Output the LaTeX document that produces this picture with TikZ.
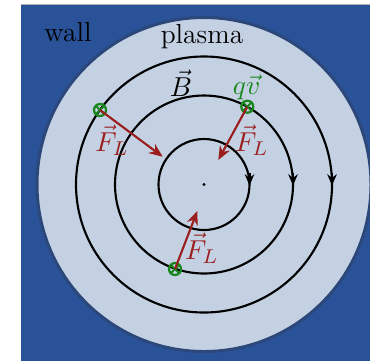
\documentclass[tikz,border=0pt]{standalone}
\usetikzlibrary{arrows.meta}
\definecolor{wallblue}{RGB}{42,82,152}
\definecolor{plasmafill}{RGB}{196,209,227}
\definecolor{plasmaedge}{RGB}{44,72,122}
\definecolor{forcered}{RGB}{155,30,30}
\definecolor{chargegreen}{RGB}{25,135,30}
\tikzset{
  fieldline/.style={line width=0.85pt, black},
  fieldarrow/.style={line width=0.85pt, -{Stealth[length=4.5pt,width=3.8pt]}},
  force/.style={line width=0.85pt, forcered, -{Stealth[length=5.5pt,width=4.5pt]}},
  charge/.style={circle, draw=chargegreen, line width=0.9pt, minimum size=4.8pt, inner sep=0pt,
    path picture={\draw[chargegreen, line width=0.75pt]
      (path picture bounding box.north west) -- (path picture bounding box.south east)
      (path picture bounding box.north east) -- (path picture bounding box.south west);}},
  lbl/.style={font=\fontsize{11}{13}\selectfont, inner sep=0pt},
}
\newcommand{\lvec}[1]{\vec{#1}\mkern1mu}
\begin{document}
\begin{tikzpicture}[x=0.4pt,y=-0.4pt]
\useasboundingbox (0,0) rectangle (370,361);
\fill[wallblue] (21,4.5) rectangle (370,361);
\draw[gray!60, line width=0.4pt] (21,4.3) -- (370,4.3);
\coordinate (C) at (204,184.5);
\filldraw[fill=plasmafill, draw=plasmaedge, line width=1.2pt] (C) circle[radius=167];
% field lines
\draw[fieldline] (C) circle[radius=45.5];
\draw[fieldline] (C) circle[radius=89];
\draw[fieldline] (C) circle[radius=128];
\draw[fieldarrow] ([shift={(45.5,-12)}]C) -- ([shift={(45.5,1)}]C);
\draw[fieldarrow] ([shift={(89,-12)}]C) -- ([shift={(89,1)}]C);
\draw[fieldarrow] ([shift={(128,-12)}]C) -- ([shift={(128,1)}]C);
\fill (C) circle[radius=1.6];
% charges
\node[charge] (q1) at (100,110) {};
\node[charge] (q2) at (247.3,106.7) {};
\node[charge] (q3) at (175,269) {};
\coordinate (t1) at (162.7,156.7);
\coordinate (t2) at (218.3,160);
\coordinate (t3) at (197.3,211);
\draw[force] (q1.center) -- (t1);
\draw[force] (q2.center) -- (t2);
\draw[force] (q3.center) -- (t3);
% labels
\node[lbl] (wall) at (68,32) {wall};
\node[lbl] (plasma) at (202,37) {plasma};
\node[lbl] (B) at (181,83) {$\vec{B}$};
\node[lbl, text=chargegreen] (qv) at (246.7,87) {$q\vec{v}$};
\node[lbl, text=forcered] (F1) at (112,140) {$\vec{F}_L$};
\node[lbl, text=forcered] (F2) at (251.7,140) {$\vec{F}_L$};
\node[lbl, text=forcered] (F3) at (201.7,248) {$\vec{F}_L$};
\end{tikzpicture}
\end{document}
